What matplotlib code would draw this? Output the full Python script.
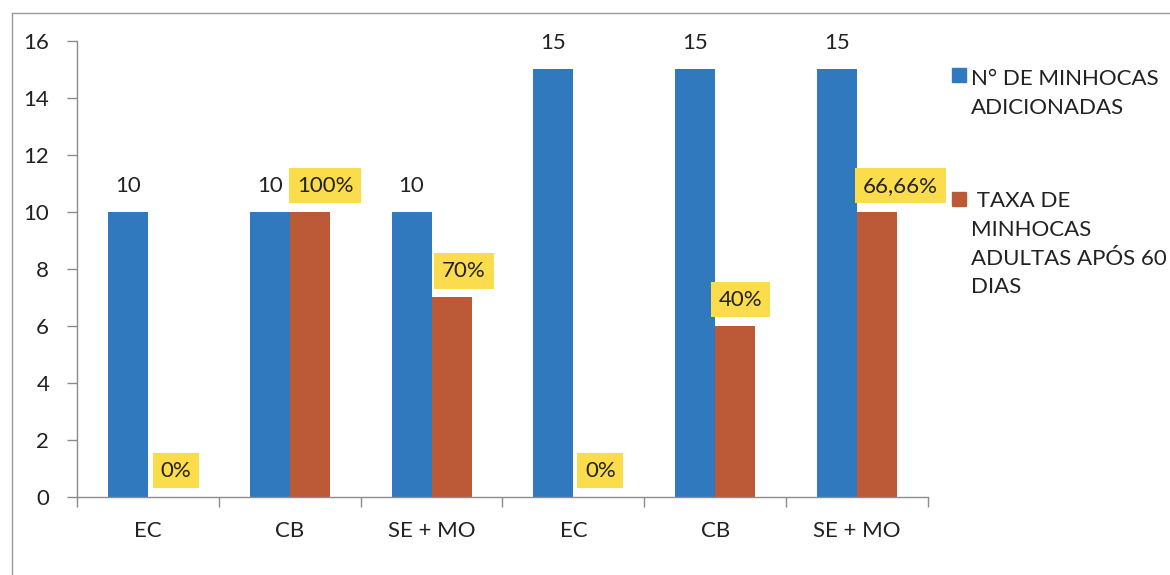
import numpy as np
import matplotlib
matplotlib.use("Agg")
import matplotlib.pyplot as plt
from matplotlib.lines import Line2D
from matplotlib.patches import Rectangle

plt.rcParams['font.family'] = ['Lato', 'DejaVu Sans']

categories = ["EC", "CB", "SE + MO", "EC", "CB", "SE + MO"]
minhocas_adicionadas = [10, 10, 10, 15, 15, 15]
minhocas_adultas = [0, 10, 7, 0, 6, 10]
taxa_labels = ["0%", "100%", "70%", "0%", "40%", "66,66%"]
legend_labels = ["N° DE MINHOCAS\nADICIONADAS",
                 " TAXA DE\nMINHOCAS\nADULTAS APÓS 60\nDIAS"]

BLUE = "#3079BE"
ORANGE = "#BC5A37"
YELLOW = "#FBDC4C"
TEXT = "#222222"
AXIS = "#8C8C8C"
FS = 16

fig = plt.figure(figsize=(11.7, 5.75), dpi=100)
ax = fig.add_axes([0.0658, 0.1357, 0.7273, 0.793])

x = np.arange(len(categories))
w = 0.282
ax.bar(x - w / 2, minhocas_adicionadas, w, color=BLUE)
ax.bar(x + w / 2, minhocas_adultas, w, color=ORANGE)

# value labels: plain on blue, yellow boxes on orange (nudged right)
nudges = [6, 11, 9, 5, 4, 17]
for xi, v in zip(x, minhocas_adicionadas):
    ax.annotate(str(v), (xi - w / 2, v), xytext=(0, 19), textcoords="offset points",
                ha="center", va="center", fontsize=FS, color=TEXT)
for xi, v, lab, dx in zip(x, minhocas_adultas, taxa_labels, nudges):
    ax.annotate(lab, (xi + w / 2, v), xytext=(dx, 19), textcoords="offset points",
                ha="center", va="center", fontsize=FS, color=TEXT,
                bbox=dict(boxstyle="square,pad=0.35", fc=YELLOW, ec="none"))

ax.set_xlim(-0.5, len(categories) - 0.5)
ax.set_ylim(0, 16)
ax.set_yticks(np.arange(0, 17, 2))
ax.set_xticks(x)
ax.set_xticklabels(categories)
ax.set_xticks(np.arange(-0.5, len(categories), 1), minor=True)
ax.tick_params(axis="x", which="major", length=0, pad=17, labelsize=FS, labelcolor=TEXT)
ax.tick_params(axis="x", which="minor", length=7, width=1, color=AXIS, direction="out")
ax.tick_params(axis="y", length=7, width=1, color=AXIS, pad=13, labelsize=FS, labelcolor=TEXT)

for side in ("top", "right"):
    ax.spines[side].set_visible(False)
for side in ("left", "bottom"):
    ax.spines[side].set_color(AXIS)
    ax.spines[side].set_linewidth(1)

# legend drawn by hand to keep the wrapped entries
W, H = 1170, 575
for color, label, sq_top, txt_top in [(BLUE, legend_labels[0], 68, 69),
                                      (ORANGE, legend_labels[1], 192, 191)]:
    fig.patches.append(Rectangle((952 / W, 1 - (sq_top + 14) / H), 14 / W, 14 / H,
                                 transform=fig.transFigure, color=color))
    fig.text(971 / W, 1 - txt_top / H, label, ha="left", va="top",
             fontsize=FS, color=TEXT, linespacing=1.55)

# chart area border (top and left edges)
fig.lines.append(Line2D([12 / W, 1], [1 - 13 / H, 1 - 13 / H], transform=fig.transFigure,
                        color="#9A9A9A", lw=1))
fig.lines.append(Line2D([12 / W, 12 / W], [0, 1 - 13 / H], transform=fig.transFigure,
                        color="#9A9A9A", lw=1))

fig.savefig("out.png", dpi=100)
